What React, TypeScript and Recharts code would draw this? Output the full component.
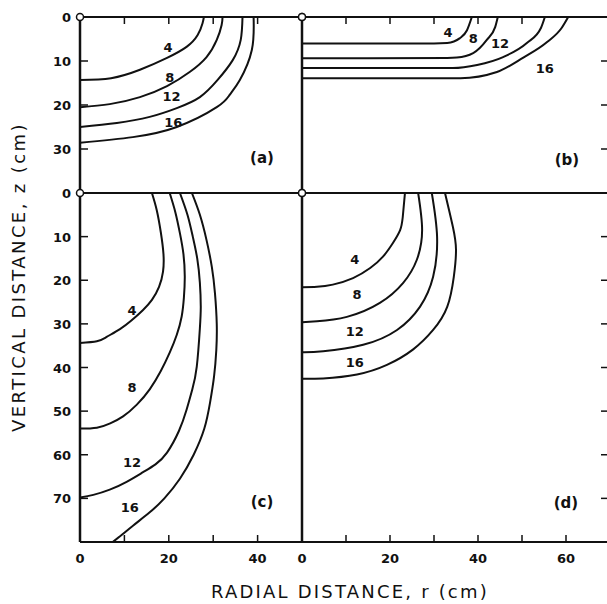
import React from "react";
import {
  ComposedChart,
  Line,
  Scatter,
  XAxis,
  YAxis,
  ReferenceLine,
  ReferenceDot,
} from "recharts";

// contour levels drawn in every panel
const levels = ["4", "8", "12", "16"];

// panel (a): [r, z] points, cm
const a4 = [[0, 14.3], [7, 13.9], [13.5, 12], [19.6, 9.3], [24, 6.8], [26.5, 4.1], [27.6, 1.4], [27.9, 0]];
const a8 = [[0, 20.5], [6.7, 19.8], [13.5, 18.2], [19.6, 15.7], [24.7, 12.5], [28.5, 9.1], [30.8, 5.2], [31.9, 1.8], [32.1, 0]];
const a12 = [[0, 25], [8.3, 24.1], [15.7, 22.7], [21.8, 20.7], [27, 18.2], [31, 14.3], [34.4, 9.8], [36.2, 5.2], [36.6, 0]];
const a16 = [[0, 28.6], [11.9, 27.3], [21.8, 25], [30.8, 20.5], [33.7, 17.7], [36, 14.3], [38.7, 7.5], [39.1, 0]];
const aLabels = [[19.8, 7], [20.2, 13.6], [20.6, 18], [21, 24]];

// panel (b)
const b4 = [[0, 6], [15, 6], [30, 6], [33, 5.9], [35.9, 4.8], [37.5, 3], [38.6, 0]];
const b8 = [[0, 9.4], [15, 9.4], [33, 9.3], [35.2, 9.2], [38.9, 8.2], [42, 5.2], [43.9, 2.3], [44.5, 0]];
const b12 = [[0, 11.6], [15, 11.6], [34.3, 11.6], [39.8, 10.9], [45.7, 9.1], [51.1, 5.9], [54.3, 2.5], [55.2, 0]];
const b16 = [[0, 13.9], [15, 13.9], [36, 13.9], [44.3, 12.5], [50.2, 9.3], [55.7, 5.7], [59, 2.5], [60.5, 0]];
const bLabels = [[33.2, 3.4], [38.9, 4.8], [45, 5.9], [55.2, 11.6]];

// panel (c)
const c4 = [[16.2, 0], [17.3, 4], [18.2, 9], [18.8, 14], [18.7, 18], [17.8, 21.5], [16.2, 24.5], [14.2, 26.8], [11.5, 29.3], [9, 31.2], [6, 33], [3.8, 34], [0, 34.4]];
const c8 = [[20.2, 0], [21.5, 4.5], [22.5, 9.2], [23.3, 14], [23.6, 19.2], [23.4, 24], [22.9, 28.3], [21.8, 32.5], [20.2, 36.6], [18.2, 40.8], [15.7, 45], [12.8, 48.5], [9.7, 51.2], [6.8, 52.8], [3.8, 53.8], [0, 54]];
const c12 = [[22.5, 0], [24.2, 5], [25.4, 10], [26.4, 15], [27, 20.6], [27.2, 26], [27, 31], [26.3, 39.8], [25.3, 45], [24, 49.7], [22.3, 54.5], [19.6, 59.5], [17, 62.2], [14.2, 64], [10.5, 66.2], [6.7, 68], [3, 69.2], [0, 69.8]];
const c16 = [[25.2, 0], [27, 5], [28.5, 10.8], [29.7, 17], [30.4, 23], [30.8, 30], [30.7, 36], [30.2, 42], [29.3, 48], [28, 54], [25.6, 60], [22.5, 65.5], [19, 70], [15.7, 73.2], [12, 76.2], [9.5, 78.3], [7.4, 80]];
const cLabels = [[11.7, 26.8], [11.7, 44.6], [11.7, 61.8], [11.2, 72]];

// panel (d)
const d4 = [[23.4, 0], [22.9, 5.5], [22.3, 8.5], [20.7, 11.4], [18.4, 14.6], [15.5, 17.2], [11.6, 19.5], [7, 21], [3.4, 21.5], [0, 21.6]];
const d8 = [[26.4, 0], [27.3, 8.5], [26.1, 15.3], [23, 20.6], [17.7, 25.2], [10.2, 28.4], [3.4, 29.4], [0, 29.6]];
const d12 = [[29.5, 0], [30.7, 10], [29.8, 19.2], [26.8, 26.1], [21.6, 31.4], [13.9, 34.8], [4.8, 36.3], [0, 36.5]];
const d16 = [[32.5, 0], [34.3, 7.8], [35, 13], [34.5, 19.2], [33, 26.1], [29.8, 31.4], [25.2, 35.9], [19.3, 39.4], [12.5, 41.6], [4.8, 42.5], [0, 42.6]];
const dLabels = [[12, 15.3], [12.5, 23.3], [12, 31.8], [12, 38.7]];

// axis ticks
const zTicksTop = [0, 10, 20, 30];
const zTicksBottom = [0, 10, 20, 30, 40, 50, 60, 70];
const rTicksLeft = [0, 10, 20, 30, 40];
const rTicksRight = [0, 10, 20, 30, 40, 50, 60];

const FONT = "'DejaVu Sans', sans-serif";
const INK = "#111";

const toPts = (a: number[][]) => a.map(([r, z]) => ({ r, z }));

const LeftTick = (p: any) => (
  <g>
    {p.payload.value > 0 && (
      <line x1={p.x} x2={p.x + 8} y1={p.y} y2={p.y} stroke={INK} strokeWidth={1.5} />
    )}
    <text x={p.x - 9} y={p.y} dy={5} textAnchor="end" fontFamily={FONT} fontSize={13} fontWeight="bold" fill={INK}>
      {p.payload.value}
    </text>
  </g>
);

const BottomTick = (p: any) => (
  <g>
    {p.payload.value > 0 && (
      <line x1={p.x} x2={p.x} y1={p.y} y2={p.y - 7} stroke={INK} strokeWidth={1.5} />
    )}
    {p.payload.value % 20 === 0 && (
      <text x={p.x} y={p.y + 21} textAnchor="middle" fontFamily={FONT} fontSize={13} fontWeight="bold" fill={INK}>
        {p.payload.value}
      </text>
    )}
  </g>
);

interface PanelProps {
  plotX: number;
  plotY: number;
  plotW: number;
  plotH: number;
  rMax: number;
  zMax: number;
  curves: number[][][];
  labels: number[][];
  tag: string;
  tagAt: number[];
  zTicks?: number[];
  rTicks?: number[];
  topTicks?: number[];
  rightTicks?: number[];
  corners: number[];
  curve: "monotoneX" | "natural";
}

function Panel(props: PanelProps) {
  const { plotX, plotY, plotW, plotH, rMax, zMax, zTicks, rTicks } = props;
  const yW = zTicks ? 80 : 0;
  const xH = rTicks ? 40 : 0;
  const pad = 10;
  const width = pad + yW + plotW + pad;
  const height = pad + plotH + xH;
  const pxR = plotW / rMax;
  const pxZ = plotH / zMax;
  const textData = [
    ...props.labels.map(([r, z], i) => ({ r, z, t: levels[i], s: 13 })),
    { r: props.tagAt[0], z: props.tagAt[1], t: props.tag, s: 15 },
  ];

  return (
    <div style={{ position: "absolute", left: plotX - yW - pad, top: plotY - pad }}>
      <ComposedChart width={width} height={height} margin={{ top: pad, right: pad, bottom: 0, left: pad }}>
        <XAxis
          dataKey="r"
          type="number"
          domain={[0, rMax]}
          ticks={rTicks}
          interval={0}
          allowDataOverflow
          hide={!rTicks}
          height={xH}
          axisLine={false}
          tickLine={false}
          tickSize={0}
          tickMargin={0}
          tick={BottomTick}
        />
        <YAxis
          dataKey="z"
          type="number"
          reversed
          domain={[0, zMax]}
          ticks={zTicks}
          interval={0}
          allowDataOverflow
          hide={!zTicks}
          width={yW}
          axisLine={false}
          tickLine={false}
          tickSize={0}
          tickMargin={0}
          tick={LeftTick}
        />
        <ReferenceLine x={0} stroke={INK} strokeWidth={2.5} />
        <ReferenceLine x={rMax} stroke={INK} strokeWidth={2} />
        <ReferenceLine y={0} stroke={INK} strokeWidth={2} />
        <ReferenceLine y={zMax} stroke={INK} strokeWidth={2} />
        {(props.topTicks || []).map((r) => (
          <ReferenceLine
            key={`t${r}`}
            segment={[{ x: r, y: 0 }, { x: r, y: 7 / pxZ }]}
            stroke={INK}
            strokeWidth={1.5}
          />
        ))}
        {(props.rightTicks || []).map((z) => (
          <ReferenceLine
            key={`rt${z}`}
            segment={[{ x: rMax - 9 / pxR, y: z }, { x: rMax, y: z }]}
            stroke={INK}
            strokeWidth={1.5}
          />
        ))}
        {props.curves.map((c, i) => (
          <Line
            key={i}
            data={toPts(c)}
            dataKey="z"
            type={props.curve}
            stroke={INK}
            strokeWidth={2}
            dot={false}
            isAnimationActive={false}
          />
        ))}
        <Scatter
          data={textData}
          dataKey="z"
          isAnimationActive={false}
          shape={(p: any) => (
            <text
              x={p.cx}
              y={p.cy}
              dy={p.payload.s * 0.36}
              textAnchor="middle"
              fontFamily={FONT}
              fontSize={p.payload.s}
              fontWeight="bold"
              fill={INK}
            >
              {p.payload.t}
            </text>
          )}
        />
        {props.corners.map((r) => (
          <ReferenceDot key={`c${r}`} x={r} y={0} r={3.5} fill="#fff" stroke={INK} strokeWidth={1.5} />
        ))}
      </ComposedChart>
    </div>
  );
}

export default function App() {
  return (
    <div
      style={{
        position: "absolute",
        left: 0,
        top: 0,
        width: 607,
        height: 604,
        overflow: "hidden",
        background: "#fff",
      }}
    >
      <Panel
        plotX={80}
        plotY={17}
        plotW={222}
        plotH={176}
        rMax={50}
        zMax={40}
        curves={[a4, a8, a12, a16]}
        labels={aLabels}
        tag="(a)"
        tagAt={[41, 32]}
        zTicks={zTicksTop}
        topTicks={[10, 20, 30, 40]}
        corners={[0, 50]}
        curve="natural"
      />
      <Panel
        plotX={302}
        plotY={17}
        plotW={308}
        plotH={176}
        rMax={70}
        zMax={40}
        curves={[b4, b8, b12, b16]}
        labels={bLabels}
        tag="(b)"
        tagAt={[60.2, 32.5]}
        topTicks={[10, 20, 30, 40, 50]}
        rightTicks={[10, 20, 30]}
        corners={[0]}
        curve="monotoneX"
      />
      <Panel
        plotX={80}
        plotY={193}
        plotW={222}
        plotH={349}
        rMax={50}
        zMax={80}
        curves={[c4, c8, c12, c16]}
        labels={cLabels}
        tag="(c)"
        tagAt={[41, 70.7]}
        zTicks={zTicksBottom}
        rTicks={rTicksLeft}
        corners={[0, 50]}
        curve="natural"
      />
      <Panel
        plotX={302}
        plotY={193}
        plotW={308}
        plotH={349}
        rMax={70}
        zMax={80}
        curves={[d4, d8, d12, d16]}
        labels={dLabels}
        tag="(d)"
        tagAt={[60, 71]}
        rTicks={rTicksRight}
        rightTicks={[10, 20, 30, 40, 50, 60, 70]}
        corners={[0]}
        curve="natural"
      />
      <svg width={607} height={604} style={{ position: "absolute", left: 0, top: 0, pointerEvents: "none" }}>
        <text x={350} y={598} textAnchor="middle" fontFamily={FONT} fontSize={18} letterSpacing={2.2} fill={INK}>
          RADIAL DISTANCE, r (cm)
        </text>
        <text
          x={0}
          y={0}
          transform="translate(25 277) rotate(-90)"
          textAnchor="middle"
          fontFamily={FONT}
          fontSize={18}
          letterSpacing={2.4}
          fill={INK}
        >
          VERTICAL DISTANCE, z (cm)
        </text>
      </svg>
    </div>
  );
}
